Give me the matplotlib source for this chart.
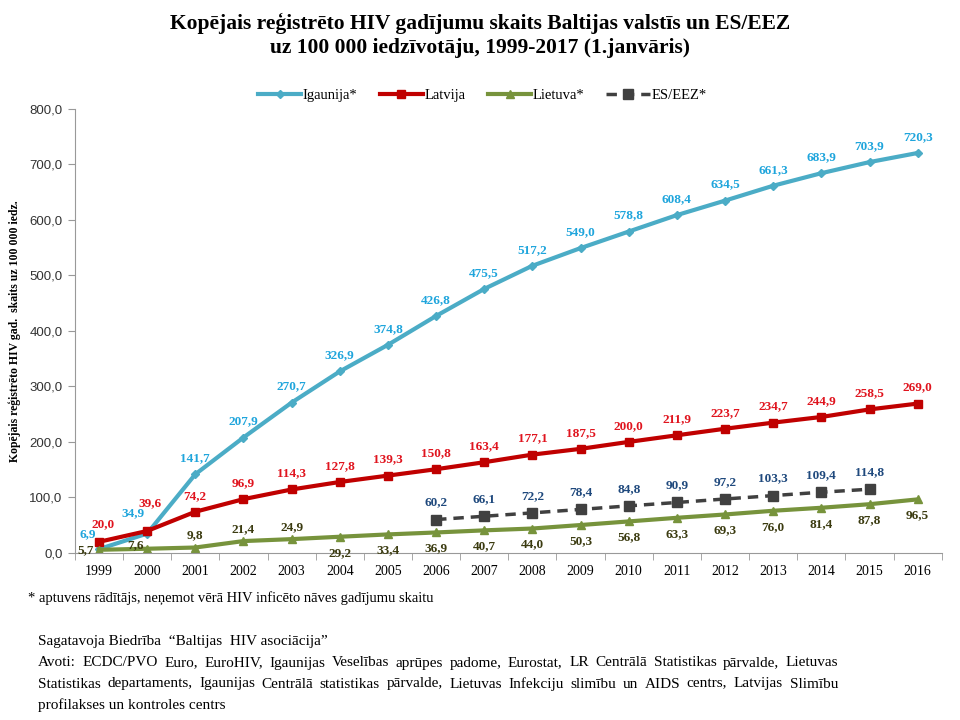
import matplotlib
matplotlib.use("Agg")
import matplotlib.pyplot as plt

years = [str(y) for y in range(1999, 2017)]
igaunija = [6.9, 34.9, 141.7, 207.9, 270.7, 326.9, 374.8, 426.8, 475.5, 517.2,
            549.0, 578.8, 608.4, 634.5, 661.3, 683.9, 703.9, 720.3]
latvija = [20.0, 39.6, 74.2, 96.9, 114.3, 127.8, 139.3, 150.8, 163.4, 177.1,
           187.5, 200.0, 211.9, 223.7, 234.7, 244.9, 258.5, 269.0]
lietuva = [5.7, 7.6, 9.8, 21.4, 24.9, 29.2, 33.4, 36.9, 40.7, 44.0,
           50.3, 56.8, 63.3, 69.3, 76.0, 81.4, 87.8, 96.5]
es_eez_years = [str(y) for y in range(2006, 2016)]
es_eez = [60.2, 66.1, 72.2, 78.4, 84.8, 90.9, 97.2, 103.3, 109.4, 114.8]

serif = "Liberation Serif"
sans = "Liberation Sans"


def fmt(v):
    return ("%.1f" % v).replace(".", ",")


fig = plt.figure(figsize=(9.6, 7.2), dpi=100)
ax = fig.add_axes([0.078, 0.232, 0.903, 0.617])

x = list(range(len(years)))
xe = [years.index(y) for y in es_eez_years]

l1, = ax.plot(x, igaunija, color="#4BACC6", lw=3, marker="D", ms=4, label="Igaunija*")
l2, = ax.plot(x, latvija, color="#C00000", lw=3, marker="s", ms=6, label="Latvija")
l3, = ax.plot(x, lietuva, color="#77933C", lw=3, marker="^", ms=6, label="Lietuva*")
l4, = ax.plot(xe, es_eez, color="#404040", lw=2.5, ls=(0, (3, 2)), marker="s", ms=7,
              label="ES/EEZ*")

lab = dict(fontfamily=serif, fontweight="bold", fontsize=9.5, ha="center", va="center",
           textcoords="offset pixels")
# label offsets in pixels for the first two years, where the lines crowd together
ig_off = {0: (-11, 15), 1: (-14, 20)}
lv_off = {0: (4, 18), 1: (3, 28)}
lt_off = {0: (-13, 0), 1: (-12, 4)}
for i, v in enumerate(igaunija):
    ax.annotate(fmt(v), (x[i], v), xytext=ig_off.get(i, (0, 16)), color="#1FA5DC", **lab)
for i, v in enumerate(latvija):
    ax.annotate(fmt(v), (x[i], v), xytext=lv_off.get(i, (0, 16)), color="#E0141E", **lab)
for i, v in enumerate(lietuva):
    off = lt_off.get(i, (0, 12) if i < 5 else (0, -16))
    ax.annotate(fmt(v), (x[i], v), xytext=off, color="#3B3B10", **lab)
for i, v in zip(xe, es_eez):
    ax.annotate(fmt(v), (i, v), xytext=(0, 17), color="#1F497D", **lab)

ax.set_xlim(-0.5, len(years) - 0.5)
ax.set_ylim(0, 800)
ax.set_yticks(range(0, 801, 100))
ax.set_yticklabels([fmt(v) for v in range(0, 801, 100)], fontfamily=sans, fontsize=9.5,
                   color="#333333")
ax.set_xticks(x)
ax.set_xticklabels(years, fontfamily=serif, fontsize=10)
ax.set_xticks([i - 0.5 for i in range(len(years) + 1)], minor=True)
ax.tick_params(axis="x", which="major", length=0, pad=9)
ax.tick_params(axis="x", which="minor", length=5, color="#999999")
ax.tick_params(axis="y", length=5, color="#999999", pad=4)
for s in ["top", "right"]:
    ax.spines[s].set_visible(False)
for s in ["left", "bottom"]:
    ax.spines[s].set_color("#999999")

ax.set_ylabel("Kopējais reģistrēto HIV gad.  skaits uz 100 000 iedz.", fontfamily=serif,
              fontweight="bold", fontsize=8.5, labelpad=6)

ax.legend(handles=[l1, l2, l3, l4], loc="lower center", bbox_to_anchor=(0.47, 0.985),
          ncol=4, frameon=False, prop={"family": serif, "size": 10.5},
          handlelength=3, columnspacing=1.5, handletextpad=0.1)

fig.text(0.5, 0.968, "Kopējais reģistrēto HIV gadījumu skaits Baltijas valstīs un ES/EEZ",
         ha="center", va="center", fontfamily=serif, fontweight="bold", fontsize=15.5)
fig.text(0.5, 0.934, "uz 100 000 iedzīvotāju, 1999-2017 (1.janvāris)",
         ha="center", va="center", fontfamily=serif, fontweight="bold", fontsize=15.5)

fig.text(28 / 960, 1 - 598 / 720,
         "* aptuvens rādītājs, neņemot vērā HIV inficēto nāves gadījumu skaitu",
         ha="left", va="center", fontfamily=serif, fontsize=10.5)

footer = [
    ("Sagatavoja Biedrība  “Baltijas  HIV asociācija”", False),
    ("Avoti: ECDC/PVO Euro, EuroHIV, Igaunijas Veselības aprūpes padome, Eurostat, "
     "LR Centrālā Statistikas pārvalde, Lietuvas", True),
    ("Statistikas departaments, Igaunijas Centrālā statistikas pārvalde, Lietuvas "
     "Infekciju slimību un AIDS centrs, Latvijas Slimību", True),
    ("profilakses un kontroles centrs", False),
]
fig.canvas.draw()
renderer = fig.canvas.get_renderer()
x0, x1 = 38, 838
for k, (line, justify) in enumerate(footer):
    yy = 1 - (642 + 21 * k) / 720
    if not justify:
        fig.text(x0 / 960, yy, line, ha="left", va="center", fontfamily=serif, fontsize=11)
        continue
    words = line.split()
    widths = []
    for w in words:
        t = fig.text(0, 0, w, fontfamily=serif, fontsize=11)
        widths.append(t.get_window_extent(renderer).width)
        t.remove()
    gap = (x1 - x0 - sum(widths)) / (len(words) - 1)
    pos = x0
    for w, wd in zip(words, widths):
        fig.text(pos / 960, yy, w, ha="left", va="center", fontfamily=serif, fontsize=11)
        pos += wd + gap

fig.savefig("out.png", dpi=100)
